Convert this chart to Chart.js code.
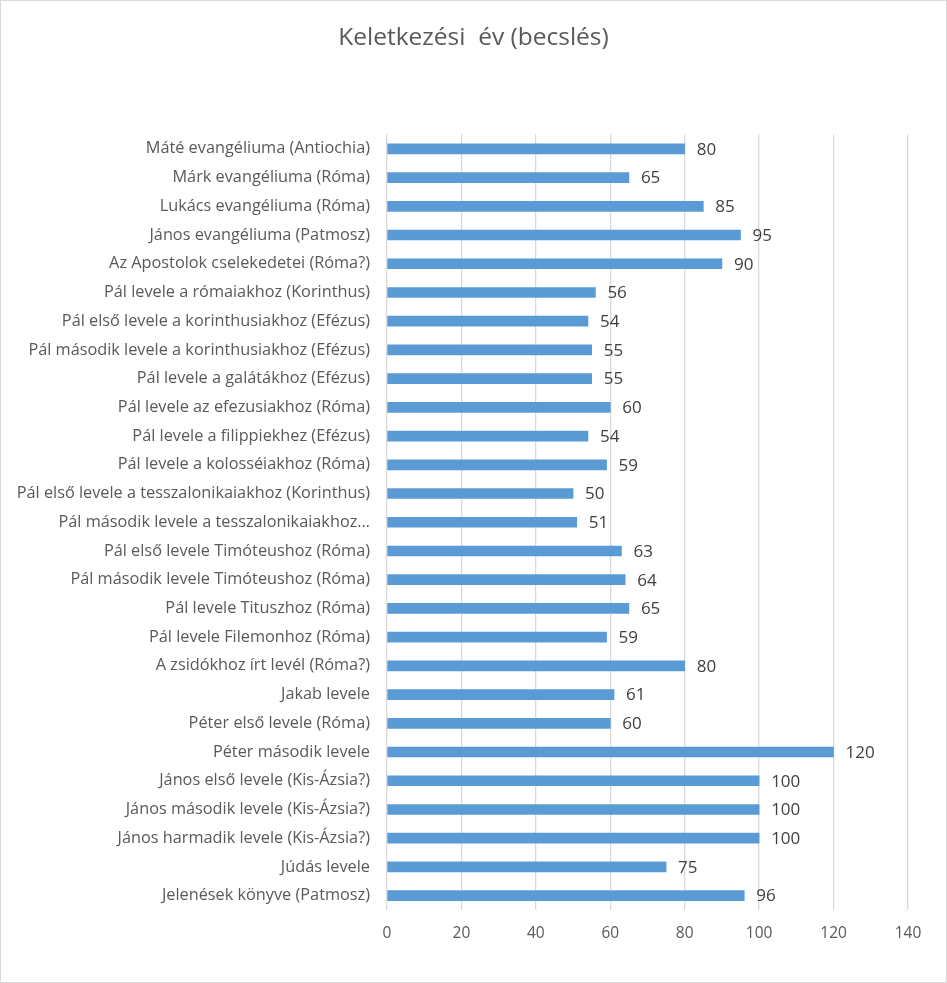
<!DOCTYPE html>
<html>
<head>
<meta charset="utf-8">
<script src="https://cdn.jsdelivr.net/npm/chart.js@4"></script>
<style>
html,body{margin:0;padding:0;background:#fff;}
canvas{display:block;}
</style>
</head>
<body>
<canvas id="c" width="947" height="983"></canvas>
<script>
const titleText = 'Keletkezési  év (becslés)';
const categories = [
  'Máté evangéliuma (Antiochia)',
  'Márk evangéliuma (Róma)',
  'Lukács evangéliuma (Róma)',
  'János evangéliuma (Patmosz)',
  'Az Apostolok cselekedetei (Róma?)',
  'Pál levele a rómaiakhoz (Korinthus)',
  'Pál első levele a korinthusiakhoz (Efézus)',
  'Pál második levele a korinthusiakhoz (Efézus)',
  'Pál levele a galátákhoz (Efézus)',
  'Pál levele az efezusiakhoz (Róma)',
  'Pál levele a filippiekhez (Efézus)',
  'Pál levele a kolosséiakhoz (Róma)',
  'Pál első levele a tesszalonikaiakhoz (Korinthus)',
  'Pál második levele a tesszalonikaiakhoz…',
  'Pál első levele Timóteushoz (Róma)',
  'Pál második levele Timóteushoz (Róma)',
  'Pál levele Tituszhoz (Róma)',
  'Pál levele Filemonhoz (Róma)',
  'A zsidókhoz írt levél (Róma?)',
  'Jakab levele',
  'Péter első levele (Róma)',
  'Péter második levele',
  'János első levele (Kis-Ázsia?)',
  'János második levele (Kis-Ázsia?)',
  'János harmadik levele (Kis-Ázsia?)',
  'Júdás levele',
  'Jelenések könyve (Patmosz)'
];
const years = [80,65,85,95,90,56,54,55,55,60,54,59,50,51,63,64,65,59,80,61,60,120,100,100,100,75,96];
const xMin = 0, xMax = 140, xStep = 20;

const FONT = '"Open Sans", Lato, sans-serif';

const valueLabels = {
  id: 'valueLabels',
  afterDatasetsDraw(chart) {
    const ctx = chart.ctx;
    const meta = chart.getDatasetMeta(0);
    ctx.save();
    ctx.font = '17px ' + FONT;
    ctx.fillStyle = '#404040';
    ctx.textAlign = 'left';
    ctx.textBaseline = 'middle';
    meta.data.forEach((bar, i) => {
      ctx.fillText(String(years[i]), bar.x + 12, bar.y + 1);
    });
    ctx.restore();
  }
};
const frameAndTitle = {
  id: 'frameAndTitle',
  beforeDraw(chart) {
    const ctx = chart.ctx;
    ctx.save();
    ctx.fillStyle = '#fff';
    ctx.fillRect(0, 0, chart.width, chart.height);
    ctx.restore();
  },
  afterDraw(chart) {
    const ctx = chart.ctx;
    ctx.save();
    ctx.font = '24.5px ' + FONT;
    ctx.fillStyle = '#595959';
    ctx.textAlign = 'center';
    ctx.textBaseline = 'middle';
    ctx.fillText(titleText, chart.width / 2, 38);
    ctx.strokeStyle = '#d9d9d9';
    ctx.lineWidth = 1;
    ctx.strokeRect(0.5, 0.5, chart.width - 1, chart.height - 1);
    ctx.restore();
  }
};

new Chart(document.getElementById('c'), {
  type: 'bar',
  data: {
    labels: categories,
    datasets: [{
      data: years,
      backgroundColor: '#5b9bd5',
      barThickness: 10
    }]
  },
  options: {
    indexAxis: 'y',
    responsive: false,
    animation: false,
    devicePixelRatio: 1,
    layout: { padding: { top: 134.5, right: 39, bottom: 0, left: 0 } },
    plugins: {
      legend: { display: false },
      tooltip: { enabled: false },
      title: { display: false }
    },
    scales: {
      x: {
        min: xMin, max: xMax,
        ticks: { stepSize: xStep, color: '#595959', font: { family: FONT, size: 15.5 }, padding: 14 },
        grid: { color: '#d9d9d9', lineWidth: 1.3, drawTicks: false },
        border: { display: false },
        afterFit(scale) { scale.height = 73; }
      },
      y: {
        ticks: { color: '#595959', font: { family: FONT, size: 16.3 }, padding: 17, autoSkip: false },
        grid: { display: false, drawTicks: false },
        border: { display: false },
        afterFit(scale) { scale.width = 387; }
      }
    }
  },
  plugins: [valueLabels, frameAndTitle]
});
</script>
</body>
</html>
